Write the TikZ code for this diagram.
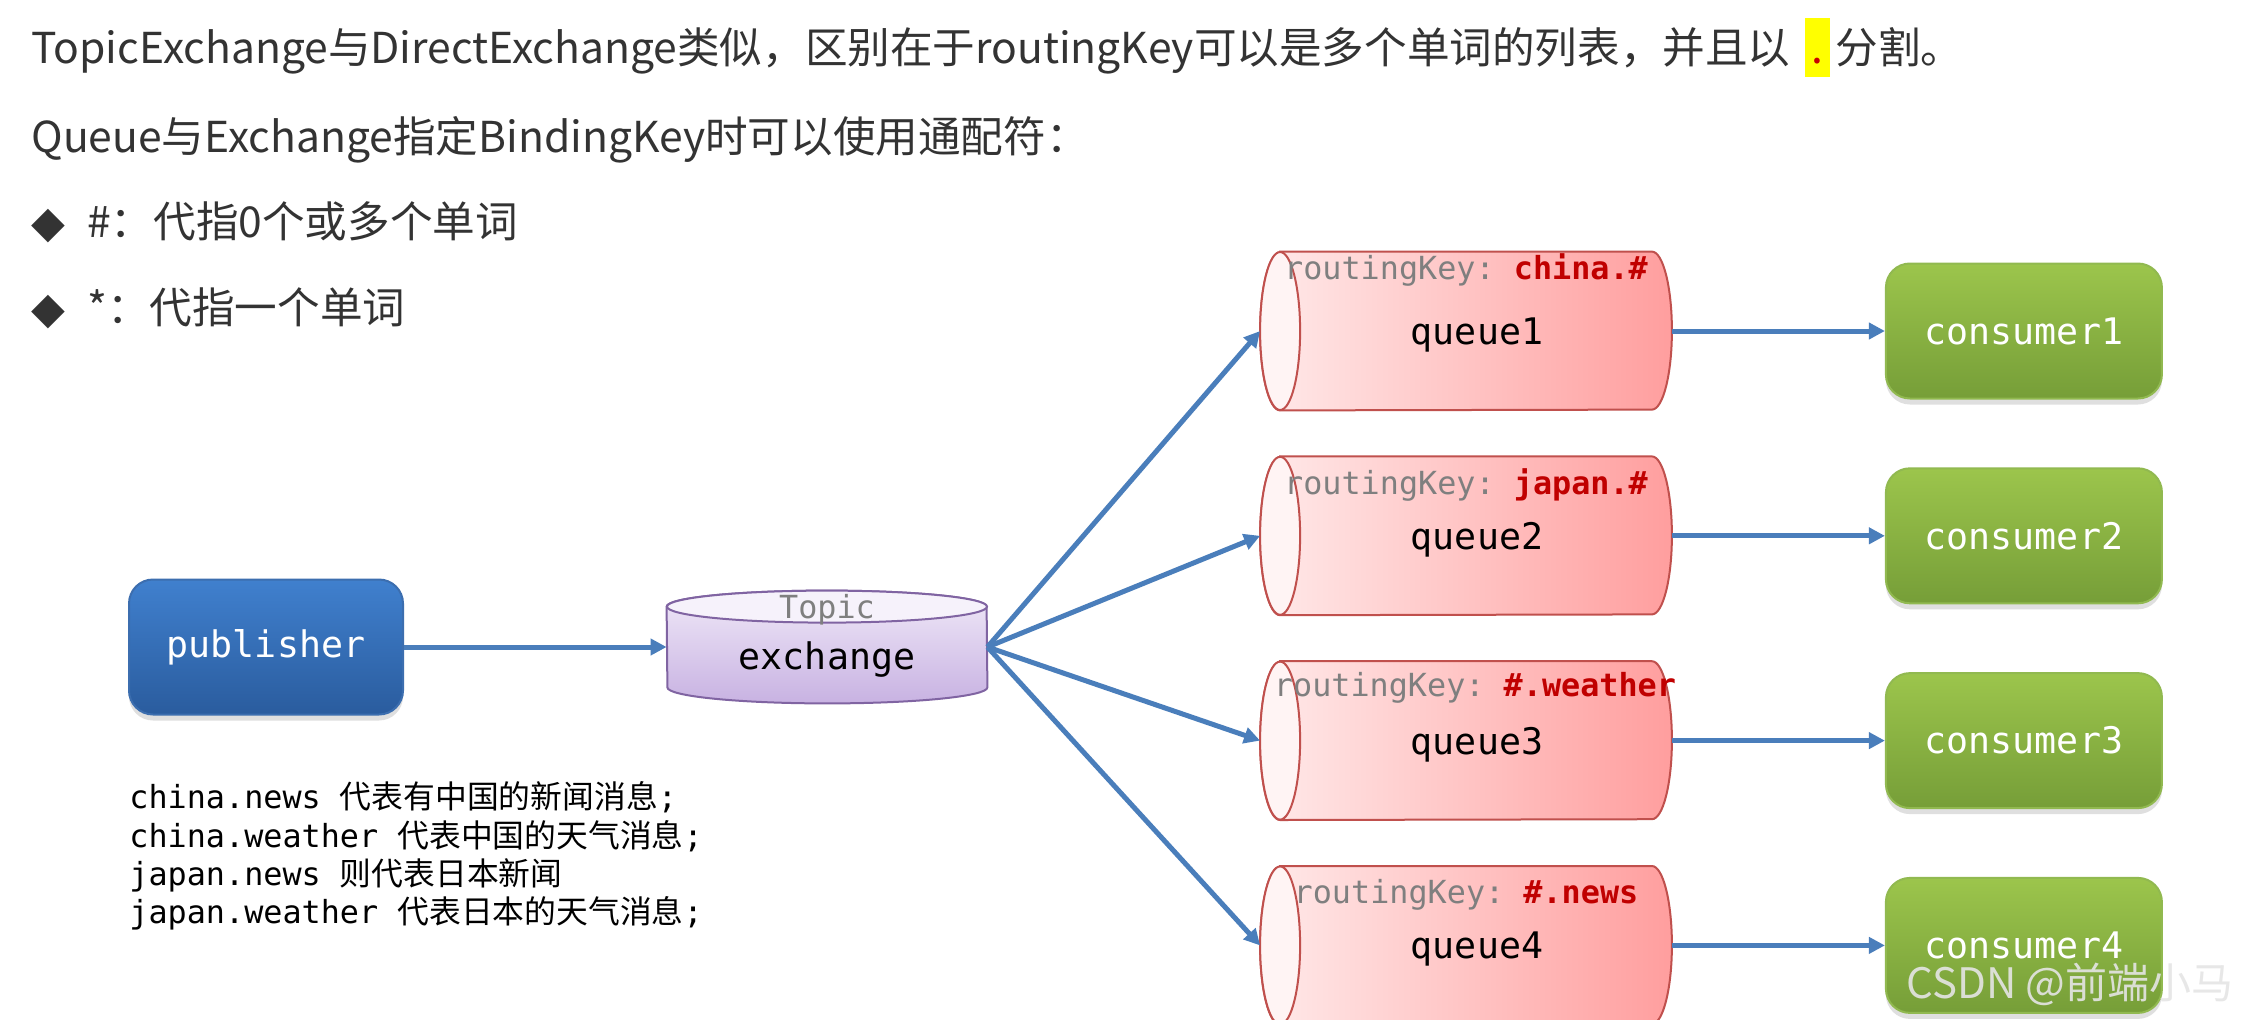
\documentclass[tikz,border=0pt]{standalone}
\usepackage{fontspec}
\setmainfont{Noto Sans CJK SC}
\setmonofont{DejaVu Sans Mono}
\newfontfamily\bulletfont{DejaVu Sans}
\usetikzlibrary{arrows.meta,positioning,calc,shadows}
\usepackage{xcolor}
\definecolor{textgray}{RGB}{51,51,51}
\definecolor{hlyellow}{RGB}{255,255,0}
\definecolor{dotred}{RGB}{200,0,0}
\definecolor{pubtop}{RGB}{64,128,206}
\definecolor{pubbottom}{RGB}{42,92,158}
\definecolor{pubborder}{RGB}{60,110,175}
\definecolor{contop}{RGB}{156,197,76}
\definecolor{conbottom}{RGB}{118,158,56}
\definecolor{conborder}{RGB}{145,185,80}
\definecolor{queueleft}{RGB}{255,234,234}
\definecolor{queueright}{RGB}{255,158,158}
\definecolor{queueborder}{RGB}{192,80,77}
\definecolor{extop}{RGB}{240,233,248}
\definecolor{exbottom}{RGB}{200,178,226}
\definecolor{exborder}{RGB}{128,100,162}
\definecolor{flowblue}{RGB}{74,126,187}
\definecolor{keygray}{RGB}{127,127,127}
\definecolor{keyred}{RGB}{192,0,0}

\newcommand{\hldot}{{\setlength{\fboxsep}{0pt}\colorbox{hlyellow}{\makebox[12.5pt]{\rule[-7pt]{0pt}{29.5pt}\textcolor{dotred}{.}}}}}

% lying drum drawn over a queue node
\newcommand{\queuedrum}[1]{%
  \draw[queuebody] ($(#1.north west)+(10pt,0)$) -- ($(#1.north east)+(-10pt,0)$)
    arc[start angle=90, end angle=-90, x radius=10pt, y radius=39.5pt]
    -- ($(#1.south west)+(10pt,0)$)
    arc[start angle=270, end angle=90, x radius=10pt, y radius=39.5pt] -- cycle;
  \draw[queueface] ($(#1.west)+(10pt,0)$) ellipse[x radius=10pt, y radius=39.5pt];
}
% standing drum drawn over the exchange node
\newcommand{\exdrum}[1]{%
  \draw[exbody] ($(#1.north west)+(0,-8pt)$) arc[start angle=180, end angle=0, x radius=80pt, y radius=8pt]
    -- ($(#1.south east)+(0,8pt)$)
    arc[start angle=0, end angle=-180, x radius=80pt, y radius=8pt] -- cycle;
  \draw[exface] ($(#1.north)+(0,-8pt)$) ellipse[x radius=80pt, y radius=8pt];
}

\begin{document}
\begin{tikzpicture}[
  x=0.5pt, y=-0.5pt,
  intro/.style={anchor=base west, text=textgray, font=\fontsize{21.3pt}{25pt}\selectfont, inner sep=0pt},
  pubbox/.style={rectangle, rounded corners=12pt, draw=pubborder, line width=1pt, top color=pubtop, bottom color=pubbottom,
    minimum width=137pt, minimum height=67.5pt, text=white, font=\ttfamily\fontsize{18.3pt}{22pt}\selectfont,
    drop shadow={opacity=0.25, shadow xshift=0pt, shadow yshift=-3pt}},
  consumerbox/.style={pubbox, draw=conborder, top color=contop, bottom color=conbottom, minimum width=138pt},
  exbox/.style={rectangle, minimum width=160pt, minimum height=56pt, inner sep=0pt},
  exbody/.style={draw=exborder, line width=1pt, top color=extop, bottom color=exbottom},
  exface/.style={draw=exborder, line width=1pt, fill=extop!60!white},
  queuebox/.style={rectangle, minimum width=205.5pt, minimum height=79pt, inner sep=0pt},
  queuebody/.style={draw=queueborder, line width=1pt, left color=queueleft, right color=queueright},
  queueface/.style={draw=queueborder, line width=1pt, fill=queueleft!50!white},
  boxlabel/.style={font=\ttfamily\fontsize{18.3pt}{22pt}\selectfont, inner sep=0pt},
  keylabel/.style={font=\ttfamily\fontsize{15.9pt}{19pt}\selectfont, text=keygray, inner sep=0pt},
  flow/.style={draw=flowblue, line width=2.5pt, -{Triangle[length=8pt, width=8pt]}},
  node distance=23pt
]
\path[use as bounding box, fill=white] (0,0) rectangle (2242,1019);

% intro text
\node[intro] (line1) at (31,63) {TopicExchange与DirectExchange类似，区别在于routingKey可以是多个单词的列表，并且以\hspace{7pt}\hldot\hspace{3pt}分割。};
\node[intro] (line2) at (31,152) {Queue与Exchange指定BindingKey时可以使用通配符：};
\node[intro] (rule1) at (31,237) {{\bulletfont\fontsize{22pt}{22pt}\selectfont ◆}\hspace{11pt}\#：代指0个或多个单词};
\node[intro] (rule2) at (31,323) {{\bulletfont\fontsize{22pt}{22pt}\selectfont ◆}\hspace{11pt}*：代指一个单词};

\node[pubbox] (pub) at (266,647) {publisher};
\node[exbox] (ex) at (827,647) {};
\exdrum{ex}
\node[keylabel] (extype) at (827,610) {Topic};
\node[boxlabel] (exname) at (827,660) {exchange};

\node[queuebox] (q1) at (1466,331) {};
\node[queuebox, below=of q1] (q2) {};
\node[queuebox, below=of q2] (q3) {};
\node[queuebox, below=of q3] (q4) {};
\queuedrum{q1}
\queuedrum{q2}
\queuedrum{q3}
\queuedrum{q4}

\node[keylabel] (k1) at ($(q1.north)+(0,18)$) {routingKey: \textcolor{keyred}{\bfseries china.\#}};
\node[keylabel] (k2) at ($(q2.north)+(0,29)$) {routingKey: \textcolor{keyred}{\bfseries japan.\#}};
\node[keylabel] (k3) at ($(q3.north)+(9,27)$) {routingKey: \textcolor{keyred}{\bfseries \#.weather}};
\node[keylabel] (k4) at ($(q4.north)+(0,29)$) {routingKey: \textcolor{keyred}{\bfseries \#.news}};
\node[boxlabel] (n1) at ($(q1.center)+(11,4)$) {queue1};
\node[boxlabel] (n2) at ($(q2.center)+(11,4)$) {queue2};
\node[boxlabel] (n3) at ($(q3.center)+(11,4)$) {queue3};
\node[boxlabel] (n4) at ($(q4.center)+(11,4)$) {queue4};

\node[consumerbox, right=106.5pt of q1] (c1) {consumer1};
\node[consumerbox, right=106.5pt of q2] (c2) {consumer2};
\node[consumerbox, right=106.5pt of q3] (c3) {consumer3};
\node[consumerbox, right=106.5pt of q4] (c4) {consumer4};

\draw[flow] (pub.east) -- (ex.west);
\draw[flow] (ex.east) -- (q1.west);
\draw[flow] (ex.east) -- (q2.west);
\draw[flow] (ex.east) -- (q3.west);
\draw[flow] (ex.east) -- (q4.west);
\draw[flow] (q1.east) -- (c1.west);
\draw[flow] (q2.east) -- (c2.west);
\draw[flow] (q3.east) -- (c3.west);
\draw[flow] (q4.east) -- (c4.west);

% routing key examples
\node[anchor=west, align=left, inner sep=0pt, font=\fontsize{15.9pt}{19.15pt}\selectfont] (examples) at (129,856) {%
\texttt{china.news }代表有中国的新闻消息\texttt{;}\\
\texttt{china.weather }代表中国的天气消息\texttt{;}\\
\texttt{japan.news }则代表日本新闻\\
\texttt{japan.weather }代表日本的天气消息\texttt{;}};

\node[font=\fontsize{21pt}{24pt}\selectfont, text=white!80!gray, opacity=0.9] (mark) at (2070,984) {CSDN @前端小马};
\end{tikzpicture}
\end{document}
